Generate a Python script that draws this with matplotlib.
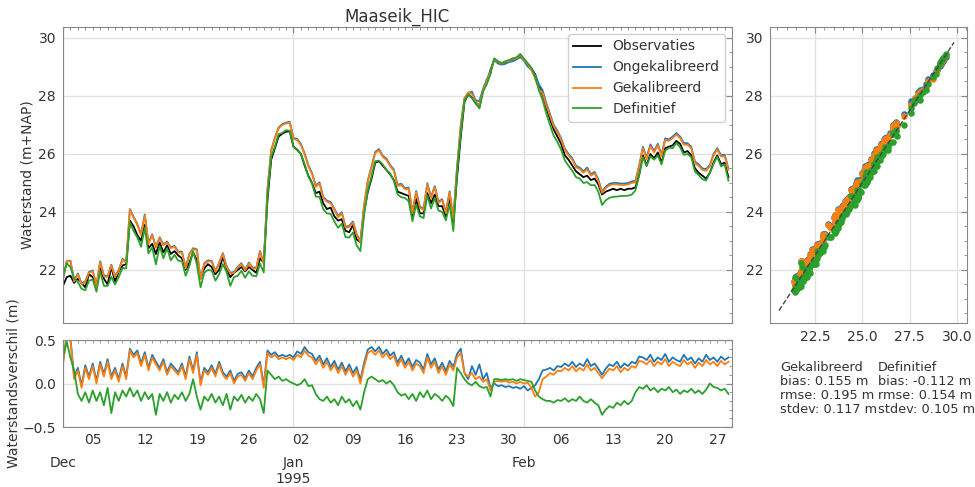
import numpy as np
import pandas as pd
import matplotlib
matplotlib.use('Agg')
import matplotlib.pyplot as plt
import matplotlib.dates as mdates
from matplotlib.ticker import MultipleLocator, FuncFormatter

titel = 'Maaseik_HIC'
start = '1994-12-01'  # 12-uurlijkse waarden
# waterstand observaties (m+NAP)
obs = [21.45, 21.75, 21.8, 21.55, 21.7, 21.55, 21.4, 21.85, 21.75, 21.45,
       22.05, 21.7, 21.5, 22.1, 21.6, 21.95, 22.15, 22.2, 23.7, 23.5,
       23.2, 23.0, 23.55, 22.75, 22.9, 22.55, 22.95, 22.6, 22.85, 22.55,
       22.65, 22.5, 22.4, 22.0, 22.25, 22.6, 22.35, 21.7, 22.05, 22.2,
       22.1, 21.85, 22.0, 22.45, 22.05, 21.75, 21.9, 22.0, 22.1, 21.95,
       22.1, 22.0, 21.9, 22.4, 22.25, 24.4, 25.8, 26.2, 26.6, 26.7,
       26.77, 26.78, 26.25, 26.15, 26.0, 25.6, 25.25, 25.0, 24.65, 24.7,
       24.3, 24.1, 24.15, 23.85, 23.7, 23.75, 23.35, 23.3, 23.55, 23.05,
       22.95, 24.0, 24.7, 25.15, 25.7, 25.75, 25.6, 25.45, 25.3, 25.1,
       24.7, 24.65, 24.6, 24.55, 23.8, 24.45, 23.95, 23.95, 24.65, 24.3,
       24.6, 24.2, 24.2, 23.85, 24.45, 23.6, 25.2, 26.6, 27.8, 28.05,
       27.95, 27.75, 27.6, 28.2, 28.45, 28.9, 29.25, 29.15, 29.1, 29.15,
       29.2, 29.25, 29.3, 29.4, 29.25, 29.1, 28.95, 28.75, 28.35, 28.05,
       27.6, 27.2, 26.85, 26.6, 26.35, 25.95, 25.8, 25.6, 25.4, 25.3,
       25.2, 25.25, 25.1, 25.15, 24.95, 24.6, 24.7, 24.75, 24.8, 24.75,
       24.8, 24.75, 24.8, 24.8, 24.85, 25.3, 25.95, 25.6, 26.0, 25.85,
       26.05, 25.7, 26.2, 26.25, 26.3, 26.45, 26.35, 26.05, 26.1, 25.95,
       25.5, 25.35, 25.25, 25.15, 25.35, 25.7, 25.95, 25.65, 25.7, 25.2]
# verschil model - observatie (m)
d_ongek = [0.25, 0.55, 0.52, 0.08, 0.18, -0.02, 0.21, 0.08, 0.23, 0.03,
           0.25, 0.11, 0.28, 0.08, 0.18, 0.05, 0.23, 0.08, 0.4, 0.33,
           0.38, 0.23, 0.36, 0.18, 0.33, 0.25, 0.18, 0.28, 0.13, 0.23,
           0.18, 0.13, 0.23, 0.08, 0.31, 0.15, 0.36, 0.01, 0.18, 0.13,
           0.21, 0.11, 0.25, 0.13, 0.08, 0.15, 0.03, 0.11, 0.13, 0.06,
           0.15, 0.08, 0.18, 0.25, -0.02, 0.38, 0.33, 0.36, 0.31, 0.33,
           0.31, 0.33, 0.3, 0.37, 0.34, 0.42, 0.36, 0.34, 0.26, 0.32,
           0.22, 0.29, 0.19, 0.26, 0.16, 0.24, 0.14, 0.22, 0.12, 0.19,
           0.04, 0.24, 0.39, 0.42, 0.37, 0.42, 0.34, 0.39, 0.32, 0.36,
           0.24, 0.32, 0.22, 0.29, 0.19, 0.27, 0.24, 0.16, 0.34, 0.22,
           0.29, 0.16, 0.24, 0.14, 0.26, 0.19, 0.34, 0.4, 0.12, 0.05,
           0.2, 0.1, 0.22, 0.05, 0.12, -0.05, 0.0, -0.03, -0.02, -0.04,
           -0.03, -0.05, -0.04, -0.06, -0.03, -0.08, -0.05, -0.02, 0.05, 0.15,
           0.16, 0.18, 0.15, 0.2, 0.19, 0.23, 0.2, 0.25, 0.19, 0.23,
           0.2, 0.28, 0.2, 0.23, 0.17, 0.1, 0.17, 0.22, 0.2, 0.25,
           0.18, 0.23, 0.2, 0.25, 0.23, 0.31, 0.3, 0.27, 0.33, 0.25,
           0.3, 0.27, 0.34, 0.25, 0.3, 0.27, 0.25, 0.33, 0.27, 0.3,
           0.23, 0.29, 0.25, 0.33, 0.27, 0.3, 0.25, 0.31, 0.27, 0.3]
d_gek = [0.22, 0.55, 0.5, 0.05, 0.15, -0.05, 0.18, 0.05, 0.2, 0.0,
         0.22, 0.08, 0.25, 0.05, 0.15, 0.02, 0.2, 0.05, 0.38, 0.3,
         0.35, 0.2, 0.33, 0.15, 0.3, 0.22, 0.15, 0.25, 0.1, 0.2,
         0.15, 0.1, 0.2, 0.05, 0.28, 0.12, 0.33, -0.02, 0.15, 0.1,
         0.18, 0.08, 0.22, 0.1, 0.05, 0.12, 0.0, 0.08, 0.1, 0.03,
         0.12, 0.05, 0.15, 0.22, -0.05, 0.35, 0.3, 0.33, 0.28, 0.3,
         0.28, 0.3, 0.27, 0.33, 0.3, 0.38, 0.32, 0.3, 0.22, 0.28,
         0.18, 0.25, 0.15, 0.22, 0.12, 0.2, 0.1, 0.18, 0.08, 0.15,
         0.0, 0.2, 0.35, 0.38, 0.33, 0.38, 0.3, 0.35, 0.28, 0.32,
         0.2, 0.28, 0.18, 0.25, 0.15, 0.23, 0.2, 0.12, 0.3, 0.18,
         0.25, 0.12, 0.2, 0.1, 0.22, 0.15, 0.3, 0.35, 0.12, 0.08,
         0.12, 0.05, 0.08, 0.02, 0.05, -0.08, 0.02, 0.03, 0.02, 0.03,
         0.01, 0.02, 0.0, 0.02, 0.0, 0.01, -0.05, -0.15, -0.1, 0.05,
         0.08, 0.12, 0.1, 0.15, 0.14, 0.18, 0.15, 0.2, 0.14, 0.18,
         0.15, 0.22, 0.15, 0.18, 0.12, 0.06, 0.12, 0.17, 0.15, 0.2,
         0.13, 0.18, 0.15, 0.2, 0.18, 0.26, 0.25, 0.22, 0.27, 0.2,
         0.25, 0.22, 0.28, 0.2, 0.25, 0.22, 0.2, 0.27, 0.22, 0.25,
         0.18, 0.24, 0.2, 0.27, 0.22, 0.25, 0.2, 0.26, 0.22, 0.25]
d_def = [0.3, 0.48, 0.3, 0.15, -0.12, -0.2, -0.1, -0.22, -0.08, -0.2,
         -0.1, -0.25, -0.05, -0.34, -0.1, -0.2, -0.08, -0.15, -0.05, -0.15,
         -0.08, -0.2, -0.1, -0.18, -0.12, -0.36, -0.12, -0.2, -0.1, -0.22,
         -0.13, -0.18, -0.1, -0.2, -0.12, 0.05, -0.15, -0.3, -0.15, -0.2,
         -0.12, -0.22, -0.15, -0.25, -0.12, -0.3, -0.15, -0.2, -0.13, -0.22,
         -0.15, -0.2, -0.12, -0.18, -0.34, 0.15, 0.1, 0.05, 0.08, 0.03,
         0.05, 0.02, 0.0, -0.02, 0.0, 0.05, -0.03, -0.02, -0.12, -0.18,
         -0.2, -0.15, -0.22, -0.18, -0.25, -0.15, -0.22, -0.18, -0.26, -0.2,
         -0.3, -0.1, 0.05, 0.08, 0.05, 0.02, 0.04, 0.0, 0.03, -0.02,
         -0.1, -0.14, -0.12, -0.18, -0.12, -0.2, -0.1, -0.16, -0.08, -0.18,
         -0.12, -0.15, -0.2, -0.14, -0.18, -0.26, 0.18, 0.12, 0.05, 0.0,
         -0.02, 0.02, -0.03, -0.05, -0.04, -0.15, 0.05, 0.05, 0.04, 0.05,
         0.04, 0.05, 0.03, 0.05, 0.04, 0.03, 0.02, -0.08, -0.15, -0.18,
         -0.2, -0.2, -0.22, -0.19, -0.2, -0.17, -0.21, -0.18, -0.2, -0.15,
         -0.2, -0.22, -0.18, -0.22, -0.25, -0.36, -0.3, -0.26, -0.28, -0.22,
         -0.25, -0.2, -0.24, -0.2, -0.1, -0.04, -0.06, -0.02, -0.08, -0.05,
         -0.1, -0.06, -0.08, -0.04, -0.1, -0.07, -0.12, -0.08, -0.1, -0.06,
         -0.11, -0.08, -0.12, -0.07, 0.0, -0.04, -0.05, -0.08, -0.06, -0.12]
stats_gek = ['Gekalibreerd', 'bias: 0.155 m', 'rmse: 0.195 m', 'stdev: 0.117 m']
stats_def = ['Definitief', 'bias: -0.112 m', 'rmse: 0.154 m', 'stdev: 0.105 m']
lijn_11 = [20.6, 29.85]

tijd = pd.date_range(start, periods=len(obs), freq='12h')
obs = np.array(obs)
d_ongek = np.array(d_ongek)
d_gek = np.array(d_gek)
d_def = np.array(d_def)
ongek = obs + d_ongek
gek = obs + d_gek
defi = obs + d_def

plt.rcParams['font.family'] = 'DejaVu Sans'
plt.rcParams['font.size'] = 10
plt.rcParams['text.color'] = '#333333'
plt.rcParams['axes.labelcolor'] = '#333333'

fig = plt.figure(figsize=(9.75, 4.87), dpi=100)
ax1 = fig.add_axes([0.0646, 0.3368, 0.686, 0.6078])
ax2 = fig.add_axes([0.0646, 0.1232, 0.686, 0.1786], sharex=ax1)
ax3 = fig.add_axes([0.7897, 0.3368, 0.202, 0.6078])

def opmaak(ax):
    for s in ax.spines.values():
        s.set_color('#888888')
    ax.xaxis.set_ticks_position('top')
    ax.yaxis.set_ticks_position('right')
    ax.tick_params(which='both', direction='in', colors='#888888', labelcolor='#333333',
                   labelsize=10, labelbottom=True, labeltop=False, labelleft=True, labelright=False)
    ax.tick_params(which='major', length=4, pad=5)
    ax.tick_params(which='minor', length=2)
    ax.grid(True, which='major', color='#e2e2e2', lw=1)
    ax.set_axisbelow(True)

for ax in [ax1, ax2, ax3]:
    opmaak(ax)

# tijdreeks
ax1.plot(tijd, obs, color='k', lw=1.3, label='Observaties')
ax1.plot(tijd, ongek, color='#1f77b4', lw=1.3, label='Ongekalibreerd')
ax1.plot(tijd, gek, color='#ff7f0e', lw=1.3, label='Gekalibreerd')
ax1.plot(tijd, defi, color='#2ca02c', lw=1.3, label='Definitief')
ax1.set_ylim(20.17, 30.38)
ax1.yaxis.set_major_locator(MultipleLocator(2))
ax1.yaxis.set_minor_locator(MultipleLocator(0.5))
ax1.set_ylabel('Waterstand (m+NAP)')
ax1.yaxis.set_label_coords(-0.042, 0.5)
ax1.set_title(titel, fontsize=12, pad=4)
ax1.legend(loc='upper right', fontsize=10, edgecolor='#cccccc', framealpha=0.9)

# verschillen
ax2.plot(tijd, d_ongek, color='#1f77b4', lw=1.3)
ax2.plot(tijd, d_gek, color='#ff7f0e', lw=1.3)
ax2.plot(tijd, d_def, color='#2ca02c', lw=1.3)
ax2.set_ylim(-0.5, 0.5)
ax2.yaxis.set_major_locator(MultipleLocator(0.5))
ax2.yaxis.set_minor_locator(MultipleLocator(0.1))
ax2.set_ylabel('Waterstandsverschil (m)')
ax2.yaxis.set_label_coords(-0.064, 0.5)

def maand(x, pos=None):
    d = mdates.num2date(x)
    s = d.strftime('%b')
    if d.month == 1:
        s += '\n' + d.strftime('%Y')
    return s

def dag(x, pos=None):
    d = mdates.num2date(x)
    return d.strftime('%d') if d.weekday() == 0 else ''

ax2.xaxis.set_major_locator(mdates.MonthLocator())
ax2.xaxis.set_major_formatter(FuncFormatter(maand))
ax2.xaxis.set_minor_locator(mdates.DayLocator())
ax2.xaxis.set_minor_formatter(FuncFormatter(dag))
ax2.tick_params(axis='x', which='major', pad=21)
ax2.tick_params(axis='x', which='minor', pad=4)
ax2.set_xlim(pd.Timestamp('1994-12-01 00:00'), pd.Timestamp('1995-02-28 23:00'))
ax1.tick_params(axis='x', which='both', labelbottom=False)

# scatter
ax3.scatter(obs, ongek, s=22, color='#1f77b4', linewidths=0)
ax3.scatter(obs, gek, s=22, color='#ff7f0e', linewidths=0)
ax3.scatter(obs, defi, s=22, color='#2ca02c', linewidths=0)
ax3.plot(lijn_11, lijn_11, ls='--', color='#444444', lw=1, zorder=3)
ax3.set_xlim(20.12, 30.53)
ax3.set_ylim(20.17, 30.38)
ax3.xaxis.set_major_locator(MultipleLocator(2.5))
ax3.xaxis.set_minor_locator(MultipleLocator(0.5))
ax3.yaxis.set_major_locator(MultipleLocator(2))
ax3.yaxis.set_minor_locator(MultipleLocator(0.5))

fig.text(0.8, 0.258, '\n'.join(stats_gek), va='top', ha='left', fontsize=9.3, linespacing=1.1)
fig.text(0.9005, 0.258, '\n'.join(stats_def), va='top', ha='left', fontsize=9.3, linespacing=1.1)

fig.savefig('out.png', dpi=100)
